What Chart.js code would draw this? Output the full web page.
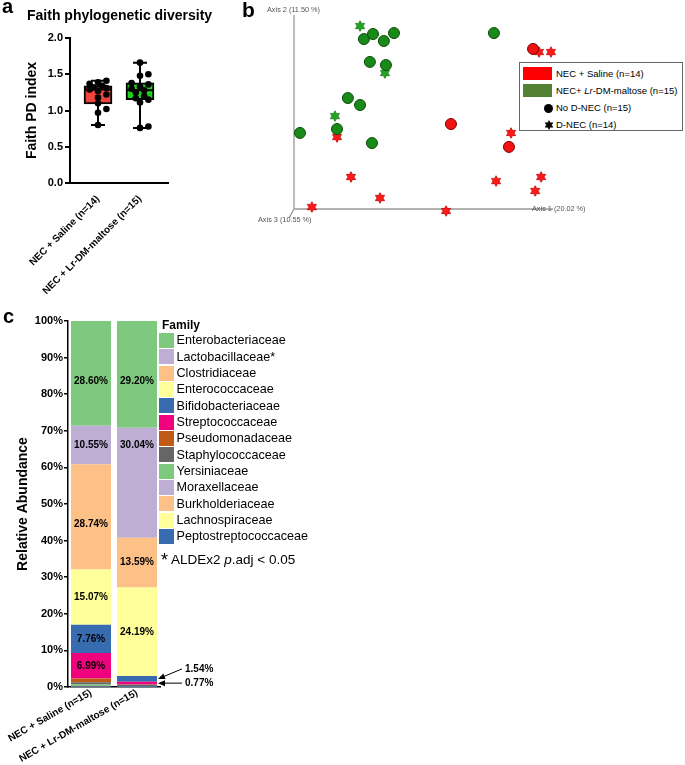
<!DOCTYPE html>
<html><head><meta charset="utf-8">
<script src="https://cdn.jsdelivr.net/npm/chart.js@4.4.1/dist/chart.umd.min.js"></script>
<style>
body{margin:0;background:#fff;font-family:"Liberation Sans",Arial,sans-serif;}
#wrap{position:relative;width:685px;height:765px;overflow:hidden;background:#fff;}
canvas{position:absolute;}
.t{position:absolute;white-space:nowrap;color:#000;}
</style></head><body><div id="wrap">
<canvas id="ca" width="240" height="300" style="left:0;top:0;width:240px;height:300px"></canvas>
<canvas id="cb" width="445" height="235" style="left:240px;top:0;width:445px;height:235px"></canvas>
<canvas id="cc" width="230" height="465" style="left:0;top:300px;width:230px;height:465px"></canvas>

<div class="t" style="left:2px;top:-4px;font-size:20px;line-height:20px;font-weight:bold">a</div>
<div class="t" style="left:242px;top:-1px;font-size:21px;line-height:21px;font-weight:bold">b</div>
<div class="t" style="left:3px;top:306px;font-size:20px;line-height:20px;font-weight:bold">c</div>
<div class="t" style="left:27px;top:8px;font-size:14px;line-height:14px;font-weight:bold">Faith phylogenetic diversity</div>

<div class="t" style="left:267px;top:6px;font-size:7.3px;line-height:7.3px;color:#555">Axis 2 (11.50 %)</div>
<div class="t" style="left:532px;top:205px;font-size:7.3px;line-height:7.3px;color:#555">Axis 1 (20.02 %)</div>
<div class="t" style="left:258px;top:216px;font-size:7.3px;line-height:7.3px;color:#555">Axis 3 (10.55 %)</div>

<div id="legB" style="position:absolute;left:519px;top:62px;width:164px;height:69px;border:1px solid #666;box-sizing:border-box;background:#fff"></div>
<div id="legC"></div>
<div class="t" style="left:161px;top:551px;font-size:18px;line-height:18px">*</div>
<div class="t" style="left:171px;top:553px;font-size:13.5px;line-height:13.5px">ALDEx2 <i>p</i>.adj &lt; 0.05</div>
</div>
<script>
// ---------- Panel a data ----------
const groupsA = ['NEC + Saline (n=14)', 'NEC + Lr-DM-maltose (n=15)'];
const faithSaline = [0.80, 0.97, 1.02, 1.10, 1.18, 1.22, 1.27, 1.29, 1.31, 1.32, 1.34, 1.37, 1.39, 1.41];
const faithLr = [0.76, 0.78, 1.11, 1.15, 1.17, 1.20, 1.25, 1.28, 1.30, 1.33, 1.36, 1.38, 1.48, 1.50, 1.66];
const boxMin = [0.80, 0.76];
const boxQ1  = [1.09, 1.15];
const boxMed = [1.29, 1.28];
const boxQ3  = [1.34, 1.38];
const boxMax = [1.41, 1.66];

// ---------- Panel b data (projected PCoA coordinates) ----------
const lrNoDnecX = [27.0, 30.5, 34.7, 38.6, 77.2, 29.3, 35.5, 20.8, 25.5, 16.6, 2.3, 30.1];
const lrNoDnecY = [87.6, 90.2, 86.6, 90.7, 90.7, 75.8, 74.2, 57.2, 53.6, 41.2, 39.2, 34.0];
const lrDnecX = [25.5, 35.1, 15.8];
const lrDnecY = [94.3, 70.1, 47.9];
const salNoDnecX = [92.3, 60.6, 83.0];
const salNoDnecY = [82.5, 43.8, 32.0];
const salDnecX = [94.6, 99.2, 83.8, 16.6, 22.0, 78.0, 95.4, 93.1, 33.2, 6.9, 58.7];
const salDnecY = [80.9, 80.9, 39.2, 37.1, 16.5, 14.4, 16.5, 9.3, 5.7, 1.0, -1.0];
const legendB = ['NEC + Saline (n=14)', 'NEC+ <i>Lr</i>-DM-maltose (n=15)', 'No D-NEC (n=15)', 'D-NEC (n=14)'];

// ---------- Panel c data ----------
const groupsC = ['NEC + Saline (n=15)', 'NEC + Lr-DM-maltose (n=15)'];
const familiesC = ['Enterobacteriaceae','Lactobacillaceae','Clostridiaceae','Enterococcaceae','Bifidobacteriaceae','Streptococcaceae','Pseudomonadaceae','Staphylococcaceae','Yersiniaceae','Moraxellaceae','Burkholderiaceae','Lachnospiraceae','Peptostreptococcaceae'];
const sigFamilies = ['Lactobacillaceae'];
const salineAbund = [28.60, 10.55, 28.74, 15.07, 7.76, 6.99, 1.00, 0.60, 0.45, 0.10, 0.05, 0.05, 0.04];
const lrAbund     = [29.20, 30.04, 13.59, 24.19, 1.54, 0.77, 0.05, 0.40, 0.10, 0.05, 0.03, 0.02, 0.02];
const colorsC = ['#7FC97F','#BEAED4','#FDC086','#FFFF99','#386CB0','#F0027F','#BF5B17','#666666','#7FC97F','#BEAED4','#FDC086','#FFFF99','#386CB0'];

const FONT = "'Liberation Sans', Arial, sans-serif";
Chart.defaults.font.family = FONT;
Chart.defaults.color = '#000';

// ---------- helpers ----------
function starCanvas(fill, stroke, R){
  const s = Math.ceil(R*2+3); const c = document.createElement('canvas'); c.width = s; c.height = s;
  const g = c.getContext('2d'); const cx = s/2, cy = s/2, r = R*0.55;
  g.beginPath();
  for (let k=0;k<12;k++){ const a = -Math.PI/2 + k*Math.PI/6; const rr = k%2 ? r : R; g.lineTo(cx+rr*Math.cos(a), cy+rr*Math.sin(a)); }
  g.closePath(); g.fillStyle = fill; g.fill(); g.strokeStyle = stroke; g.lineWidth = 0.8; g.stroke();
  return c;
}
// deterministic beeswarm offsets, confined to the box width (pixel spacing converted to axis units)
function swarm(vals, center, pxPerX, pxPerY, d, maxOff){
  const placed = [];
  const cands = [0];
  for (let j=1; j*d*0.75 <= maxOff; j++){ cands.push(j*d*0.75, -j*d*0.75); }
  return vals.map(v=>{
    let best = 0, bestDist = -1;
    for (const c of cands){
      const dist = placed.length ? Math.min(...placed.map(p => Math.hypot(p.px-c, (p.v-v)*pxPerY))) : Infinity;
      if (dist >= d) { best = c; break; }
      if (dist > bestDist) { bestDist = dist; best = c; }
    }
    placed.push({px:best, v});
    return {x: center + best/pxPerX, y: v};
  });
}
const zip = (xs, ys) => xs.map((x,i)=>({x, y: ys[i]}));

// ---------- Panel a ----------
const boxPlugin = {
  id: 'boxWhisk',
  beforeDatasetsDraw(chart){
    const {ctx, scales:{x, y}} = chart;
    ctx.save(); ctx.strokeStyle = '#000'; ctx.lineWidth = 2;
    groupsA.forEach((g,i)=>{
      const cx = x.getPixelForValue(i), yMin = y.getPixelForValue(boxMin[i]), yMax = y.getPixelForValue(boxMax[i]);
      ctx.beginPath();
      ctx.moveTo(cx, yMin); ctx.lineTo(cx, yMax);
      ctx.moveTo(cx-7, yMin); ctx.lineTo(cx+7, yMin);
      ctx.moveTo(cx-7, yMax); ctx.lineTo(cx+7, yMax);
      ctx.stroke();
    });
    ctx.restore();
  },
  afterDatasetDraw(chart, args){
    if (args.index !== 0) return;
    const {ctx, scales:{y}} = chart;
    ctx.save(); ctx.strokeStyle = '#000'; ctx.lineWidth = 2;
    args.meta.data.forEach((el,i)=>{
      const yy = y.getPixelForValue(boxMed[i]);
      ctx.beginPath(); ctx.moveTo(el.x - el.width/2, yy); ctx.lineTo(el.x + el.width/2, yy); ctx.stroke();
    });
    ctx.restore();
  }
};
new Chart(document.getElementById('ca'), {
  type: 'bar',
  data: { datasets: [
    { type:'bar', data: groupsA.map((g,i)=>({x:i, y:[boxQ1[i], boxQ3[i]]})), backgroundColor:['#F0443F','#1FD01F'],
      borderColor:'#000', borderWidth:2, borderSkipped:false, barThickness:28, order:2 },
    { type:'scatter', data: [...swarm(faithSaline,0,42,73,5.6,12), ...swarm(faithLr,1,42,73,5.6,12)],
      pointRadius:3.3, backgroundColor:'#000', borderColor:'#000', borderWidth:0, order:1 }
  ]},
  options: {
    responsive:false, animation:false, events:[],
    layout:{padding:{top:38, right:72, left:0, bottom:0}},
    plugins:{legend:{display:false}, tooltip:{enabled:false}},
    scales:{
      x:{ type:'linear', offset:false, min:-0.667, max:1.667, grid:{display:false}, border:{display:true, color:'#000', width:2},
          afterBuildTicks: s => { s.ticks = groupsA.map((g,i)=>({value:i})); },
          ticks:{ callback: v => groupsA[v], autoSkip:false, maxRotation:45, minRotation:45, padding:2,
                  font:{family:FONT, weight:'bold', size:10}, color:'#000' },
          afterFit: s => { s.height = 300-183; s.paddingLeft = 0; s.paddingRight = 0; } },
      y:{ min:0, max:2, ticks:{ stepSize:0.5, callback: v => v.toFixed(1), font:{family:FONT, weight:'bold', size:11}, color:'#000', padding:2 },
          grid:{ drawOnChartArea:false, drawTicks:true, tickLength:5, color:'#000', lineWidth:2 },
          border:{ color:'#000', width:2 },
          title:{ display:true, text:'Faith PD index', font:{family:FONT, weight:'bold', size:14}, color:'#000', padding:{top:24, bottom:0} },
          afterFit: s => { s.width = 70; } }
    }
  },
  plugins:[boxPlugin]
});

// ---------- Panel b ----------
const axis3End = [-1.9, -4.6];
const axesPlugin = {
  id:'axes3d',
  beforeDatasetsDraw(chart){
    const {ctx, scales:{x, y}} = chart;
    const ox = x.getPixelForValue(0), oy = y.getPixelForValue(0);
    ctx.save(); ctx.strokeStyle = '#999'; ctx.lineWidth = 1.3;
    ctx.beginPath();
    ctx.moveTo(ox, y.getPixelForValue(100)); ctx.lineTo(ox, oy); ctx.lineTo(x.getPixelForValue(100), oy);
    ctx.moveTo(ox, oy); ctx.lineTo(x.getPixelForValue(axis3End[0]), y.getPixelForValue(axis3End[1]));
    ctx.stroke(); ctx.restore();
  }
};
new Chart(document.getElementById('cb'), {
  type:'scatter',
  data:{ datasets:[
    { data: zip(lrNoDnecX, lrNoDnecY), pointStyle:'circle', pointRadius:5.5, backgroundColor:'#178A17', borderColor:'#0B4A0B', borderWidth:1, clip:false },
    { data: zip(lrDnecX, lrDnecY), pointStyle: starCanvas('#22A622','#157515',5.3), clip:false },
    { data: zip(salNoDnecX, salNoDnecY), pointStyle:'circle', pointRadius:5.5, backgroundColor:'#F21212', borderColor:'#7A0000', borderWidth:1, clip:false },
    { data: zip(salDnecX, salDnecY), pointStyle: starCanvas('#FF1A1A','#C00000',5.3), clip:false }
  ]},
  options:{
    responsive:false, animation:false, events:[],
    layout:{padding:{left:54, right:132, top:15, bottom:26}},
    plugins:{legend:{display:false}, tooltip:{enabled:false}},
    scales:{ x:{type:'linear', display:false, min:0, max:100}, y:{display:false, min:0, max:100} }
  },
  plugins:[axesPlugin]
});
// legend b
(function(){
  const L = document.getElementById('legB');
  const rows = [
    {sw:'rect', color:'#FF0000', cy:10.5},
    {sw:'rect', color:'#548235', cy:27.5},
    {sw:'circle', cy:45},
    {sw:'star', cy:62}
  ];
  rows.forEach((r,i)=>{
    if (r.sw==='rect'){
      const d = document.createElement('div');
      d.style.cssText = `position:absolute;left:3px;top:${r.cy-7}px;width:29px;height:13px;background:${r.color}`;
      L.appendChild(d);
    } else if (r.sw==='circle'){
      const d = document.createElement('div');
      d.style.cssText = `position:absolute;left:24px;top:${r.cy-4.5}px;width:9px;height:9px;border-radius:50%;background:#000`;
      L.appendChild(d);
    } else {
      const c = starCanvas('#000','#000',4.3);
      c.style.cssText = `position:absolute;left:${28.5-c.width/2}px;top:${r.cy-c.height/2}px`;
      L.appendChild(c);
    }
    const t = document.createElement('div');
    t.className = 't';
    t.style.cssText = `left:36px;top:${r.cy-4.7}px;font-size:9.5px;line-height:9.5px`;
    t.innerHTML = legendB[i];
    L.appendChild(t);
  });
})();

// ---------- Panel c ----------
const segPlugin = {
  id:'segLabels',
  afterDatasetsDraw(chart, args, opts){
    const ctx = chart.ctx;
    ctx.save(); ctx.font = `bold 10px ${FONT}`; ctx.fillStyle = '#000'; ctx.textAlign = 'center'; ctx.textBaseline = 'middle';
    chart.data.datasets.forEach((ds, di)=>{
      chart.getDatasetMeta(di).data.forEach((el, bi)=>{
        const v = ds.data[bi];
        if (v >= opts.minInside){
          const sh = (opts.shift[ds.label] || [0,0])[bi];
          ctx.fillText(v.toFixed(2)+'%', el.x, (el.y + el.base)/2 + sh);
        }
      });
    });
    ctx.textAlign = 'left'; ctx.strokeStyle = '#000'; ctx.lineWidth = 1;
    opts.callouts.forEach(c=>{
      const di = chart.data.datasets.findIndex(d => d.label === c.family);
      const el = chart.getDatasetMeta(di).data[c.bar];
      const v = chart.data.datasets[di].data[c.bar];
      const tipX = el.x + el.width/2 + 1, tipY = (el.y + el.base)/2;
      const tx = tipX + c.dx, ty = tipY + c.dy;
      ctx.beginPath(); ctx.moveTo(tx - 3, ty); ctx.lineTo(tipX + 4, tipY + (ty - tipY)*4/(tx - 3 - tipX)); ctx.stroke();
      const ang = Math.atan2(ty - tipY, tx - 3 - tipX);
      ctx.beginPath(); ctx.moveTo(tipX, tipY);
      ctx.lineTo(tipX + 7*Math.cos(ang) - 3*Math.sin(ang), tipY + 7*Math.sin(ang) + 3*Math.cos(ang));
      ctx.lineTo(tipX + 7*Math.cos(ang) + 3*Math.sin(ang), tipY + 7*Math.sin(ang) - 3*Math.cos(ang));
      ctx.closePath(); ctx.fill();
      ctx.fillText(v.toFixed(2)+'%', tx, ty);
    });
    ctx.restore();
  }
};
const datasetsC = familiesC.map((f,i)=>({
  label: f, data:[salineAbund[i], lrAbund[i]], backgroundColor: colorsC[i], borderWidth:0
})).reverse();
new Chart(document.getElementById('cc'), {
  type:'bar',
  data:{ labels: groupsC, datasets: datasetsC },
  options:{
    responsive:false, animation:false, events:[],
    layout:{padding:{top:21, right:70, left:0, bottom:0}},
    datasets:{ bar:{ barPercentage:1, categoryPercentage:0.87 } },
    plugins:{ legend:{display:false}, tooltip:{enabled:false},
      segLabels:{ minInside:5,
        shift:{ 'Enterobacteriaceae':[8,7], 'Clostridiaceae':[7,0], 'Lactobacillaceae':[0,-38] },
        callouts:[ {family:'Bifidobacteriaceae', bar:1, dx:27, dy:-10}, {family:'Streptococcaceae', bar:1, dx:27, dy:0} ] } },
    scales:{
      x:{ stacked:true, grid:{display:false}, border:{color:'#000', width:1.5},
          ticks:{ font:{family:FONT, weight:'bold', size:10}, color:'#000', minRotation:30, maxRotation:30, padding:-8, autoSkip:false },
          afterFit: s => { s.height = 78; s.paddingLeft = 0; s.paddingRight = 0; } },
      y:{ stacked:true, min:0, max:100,
          ticks:{ stepSize:10, callback: v => v + '%', font:{family:FONT, weight:'bold', size:11}, color:'#000', padding:1 },
          grid:{ drawOnChartArea:false, tickLength:4, color:'#000', lineWidth:1.5 },
          border:{ color:'#000', width:1.5 },
          title:{ display:true, text:'Relative Abundance', font:{family:FONT, weight:'bold', size:14}, color:'#000', padding:{top:14.5, bottom:0} },
          afterFit: s => { s.width = 68; } }
    }
  },
  plugins:[segPlugin]
});
// legend c
(function(){
  const L = document.getElementById('legC');
  const h = document.createElement('div');
  h.className = 't'; h.style.cssText = 'left:162px;top:319px;font-size:12px;line-height:12px;font-weight:bold';
  h.textContent = 'Family'; L.appendChild(h);
  familiesC.forEach((f,i)=>{
    const top = 333 + i*16.33;
    const sw = document.createElement('div');
    sw.style.cssText = `position:absolute;left:159px;top:${top}px;width:15px;height:15px;background:${colorsC[i]}`;
    L.appendChild(sw);
    const t = document.createElement('div');
    t.className = 't'; t.style.cssText = `left:176.5px;top:${top + 7.5 - 6.2}px;font-size:12.6px;line-height:12.6px`;
    t.textContent = f + (sigFamilies.includes(f) ? '*' : '');
    L.appendChild(t);
  });
})();
</script>
</body></html>
